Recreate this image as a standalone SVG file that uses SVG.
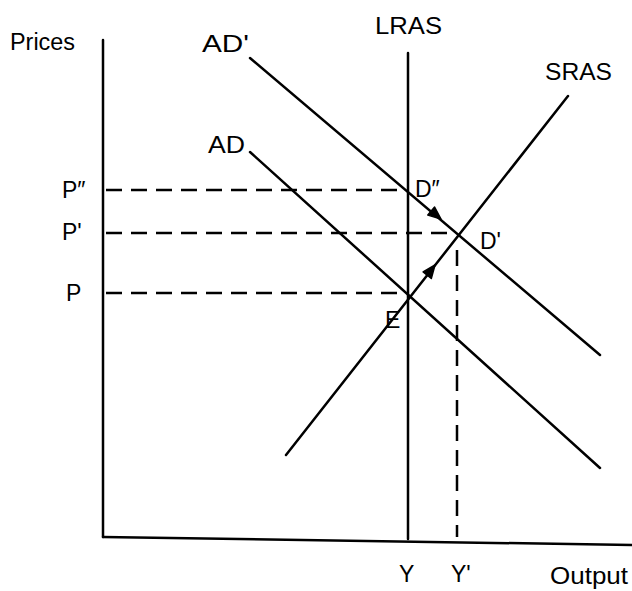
<svg xmlns="http://www.w3.org/2000/svg" width="632" height="591" viewBox="0 0 632 591">
<style>
.ax{stroke:#000;stroke-width:2.5;fill:none;stroke-linecap:round}
.cv{stroke:#000;stroke-width:2.5;fill:none;stroke-linecap:round}
.ds{stroke:#000;stroke-width:2.5;fill:none;stroke-dasharray:16 9}
.ah{fill:#000;stroke:#000;stroke-width:1.5;stroke-linejoin:round}
text{font-family:"Liberation Sans",Arial,sans-serif;font-size:23px;fill:#000}
</style>
<rect width="632" height="591" fill="#fff"/>
<g id="axes">
<line class="ax" x1="103" y1="40" x2="103" y2="537"/>
<line class="ax" x1="103" y1="537" x2="632" y2="545"/>
<text x="10" y="50" textLength="65" lengthAdjust="spacingAndGlyphs">Prices</text>
<text x="550" y="584" textLength="78" lengthAdjust="spacingAndGlyphs">Output</text>
</g>
<g id="LRAS">
<line class="cv" x1="408" y1="53" x2="408" y2="539"/>
<text x="375" y="34" textLength="67" lengthAdjust="spacingAndGlyphs">LRAS</text>
</g>
<g id="SRAS">
<line class="cv" x1="286" y1="455" x2="568" y2="96"/>
<text x="545" y="80" textLength="67" lengthAdjust="spacingAndGlyphs">SRAS</text>
</g>
<g id="ADprime">
<line class="cv" x1="250" y1="58" x2="600" y2="355"/>
<text x="202" y="52" textLength="47" lengthAdjust="spacingAndGlyphs">AD'</text>
</g>
<g id="AD">
<line class="cv" x1="250" y1="152" x2="600" y2="468"/>
<text x="208" y="153" textLength="37" lengthAdjust="spacingAndGlyphs">AD</text>
</g>
<g id="labels">
<text x="62" y="198">P″</text>
<text x="62" y="240">P'</text>
<text x="66" y="301">P</text>
<text x="415" y="197">D″</text>
<text x="480" y="249">D'</text>
<text x="385" y="328">E</text>
<text x="399" y="582">Y</text>
<text x="451" y="582">Y'</text>
</g>
<g id="connectors">
<line class="ds" x1="106" y1="190" x2="405" y2="190"/>
<line class="ds" x1="106" y1="233" x2="455" y2="233"/>
<line class="ds" x1="106" y1="293" x2="405" y2="293"/>
<line class="ds" x1="457" y1="250" x2="457" y2="537"/>
<polygon class="ah" points="441,219 427.8,215.1 434.6,207.1"/>
<polygon class="ah" points="435,265 431.3,278.5 423.1,271.9"/>
</g>
</svg>
